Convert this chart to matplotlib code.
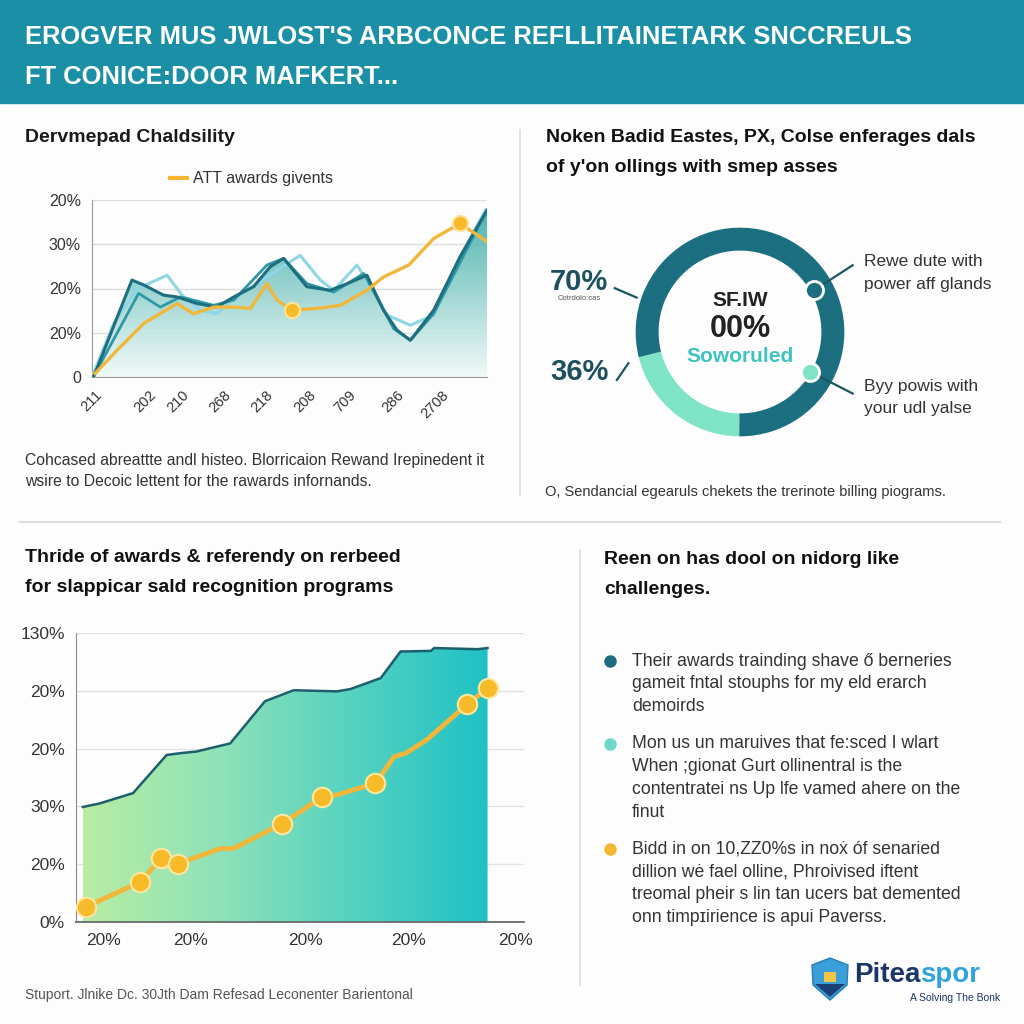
import numpy as np
import matplotlib.pyplot as plt
from matplotlib.lines import Line2D
from matplotlib.patches import Rectangle, Polygon
from matplotlib.colors import LinearSegmentedColormap

plt.rcParams['font.family'] = ['Liberation Sans', 'DejaVu Sans']

W = 1024.0

# ---- data: top-left line chart ----
tl_xlabels = ["211", "202", "210", "268", "218", "208", "709", "286", "2708"]
tl_xticks = [0, 1.34, 2.18, 3.24, 4.3, 5.39, 6.4, 7.62, 8.68]
tl_ylabels = ["0", "20%", "20%", "30%", "20%"]

dark_x = [0.04, 1.01, 1.31, 1.81, 2.15, 2.66, 3.16, 3.59, 4.09, 4.51, 4.85,
          5.44, 6.03, 6.46, 6.96, 7.38, 7.72, 8.06, 8.65, 9.32, 10.0]
dark_y = [0.0, 2.19, 2.08, 1.85, 1.81, 1.66, 1.58, 1.81, 2.04, 2.49, 2.68,
          2.04, 1.96, 2.11, 2.30, 1.51, 1.06, 0.83, 1.51, 2.72, 3.77]

mid_x = [0.08, 1.18, 1.73, 2.24, 3.08, 3.59, 4.43, 4.85, 5.44, 6.12, 6.88,
         7.64, 8.06, 8.65, 9.96]
mid_y = [0.08, 1.89, 1.58, 1.81, 1.62, 1.74, 2.53, 2.68, 2.11, 1.92, 2.34,
         1.09, 0.83, 1.43, 3.70]

light_x = [0.04, 0.55, 1.14, 1.90, 2.28, 2.74, 3.16, 3.59, 4.43, 5.27, 5.78,
           6.12, 6.71, 7.05, 7.47, 8.06, 8.65, 9.32, 9.96]
light_y = [0.08, 1.21, 1.99, 2.30, 1.85, 1.51, 1.43, 1.77, 2.26, 2.75, 2.19,
           1.96, 2.53, 2.04, 1.40, 1.17, 1.40, 2.72, 3.77]

orange_x = [0.08, 0.63, 1.31, 2.15, 2.57, 3.08, 3.59, 4.01, 4.43, 4.68, 5.06,
            5.70, 6.29, 6.96, 7.38, 8.02, 8.65, 9.32, 10.0]
orange_y = [0.08, 0.6, 1.21, 1.66, 1.43, 1.58, 1.58, 1.55, 2.11, 1.74, 1.51,
            1.55, 1.62, 1.96, 2.26, 2.53, 3.13, 3.47, 3.06]
orange_marks = [10, 17]

# ---- data: donut ----
donut_vals = [21, 79]
donut_cols = ['#7fe3c6', '#1b6f80']

# ---- data: bottom-left area chart ----
bl_ylabels = ["0%", "20%", "30%", "20%", "20%", "130%"]
bl_xlabels = ["20%", "20%", "20%", "20%", "20%"]
bl_xticks = [0.5, 2.65, 5.5, 8.04, 10.7]

area_x = [0, 0.41, 1.24, 2.07, 2.40, 2.81, 3.64, 4.50, 5.21, 6.28, 6.61,
          7.36, 7.85, 8.60, 8.68, 9.75, 10.0]
area_y = [1.99, 2.05, 2.23, 2.89, 2.92, 2.95, 3.09, 3.82, 4.01, 3.99, 4.03,
          4.22, 4.68, 4.69, 4.74, 4.72, 4.74]

rec_x = [0.08, 1.40, 1.94, 2.36, 3.39, 3.72, 4.92, 5.91, 6.28, 7.23, 7.69,
         7.98, 8.51, 9.50, 10.0]
rec_y = [0.26, 0.69, 1.10, 1.01, 1.27, 1.27, 1.70, 2.16, 2.20, 2.40, 2.86,
         2.92, 3.16, 3.77, 4.04]
rec_marks = [0, 1, 2, 3, 6, 7, 9, 13, 14]

bullets = [
    ('#1d6b80', ["Their awards trainding shave ő berneries",
                 "gameit fntal stouphs for my eld erarch",
                 "demoirds"]),
    ('#6fd8c8', ["Mon us un maruives that fe:sced I wlart",
                 "When ;gionat Gurt ollinentral is the",
                 "contentratei ns Up lfe vamed ahere on the",
                 "finut"]),
    ('#f3b732', ["Bidd in on 10,ZZ0%s in noẋ óf senaried",
                 "dillion wė fael olline, Phroivised iftent",
                 "treomal pheir s lin tan ucers bat demented",
                 "onn timpɪirience is apui Paverss."]),
]
bullet_y = [661, 744, 849]


def fx(x):
    return x / W


def fy(y):
    return 1 - y / W


def box(l, t, r, b):
    return [fx(l), fy(b), (r - l) / W, (b - t) / W]


fig = plt.figure(figsize=(10.24, 10.24), dpi=100)
fig.patch.set_facecolor('#fdfdfd')


def txt(x, y, s, **kw):
    return fig.text(fx(x), fy(y), s, **kw)


def hline(x0, x1, y0, y1, **kw):
    fig.add_artist(Line2D([fx(x0), fx(x1)], [fy(y0), fy(y1)], **kw))


# header
fig.add_artist(Rectangle((0, fy(103)), 1, 103 / W, color='#1b8fa6', zorder=0))
txt(25, 37, "EROGVER MUS JWLOST'S ARBCONCE REFLLITAINETARK SNCCREULS",
    color='white', fontsize=18.4, fontweight='bold', va='center')
txt(25, 77, "FT CONICE:DOOR MAFKERT...", color='white', fontsize=18.4,
    fontweight='bold', va='center')

# dividers
hline(520, 520, 130, 495, color='#dddddd', lw=1.2)
hline(20, 1000, 522, 522, color='#dddddd', lw=1.5)
hline(580, 580, 550, 985, color='#dddddd', lw=1.2)

# ---- top-left panel ----
txt(25, 138, "Dervmepad Chaldsility", fontsize=14, fontweight='bold',
    color='#1a1a1a', va='center')
hline(170, 187, 178, 178, color='#f2b632', lw=3)
txt(193, 178, "ATT awards givents", fontsize=11.5, color='#333333', va='center')

ax1 = fig.add_axes(box(92, 200, 487, 377))
ax1.set_xlim(0, 10)
ax1.set_ylim(0, 4)
ax1.set_facecolor('none')

grad = np.linspace(0, 1, 256)[:, None]
top_c = np.array([62, 172, 168]) / 255
bot_c = np.array([240, 250, 248]) / 255
img = bot_c + (top_c - bot_c) * grad[..., None] * np.ones((1, 2, 1))
img = np.concatenate([img, np.full((256, 2, 1), 0.92)], axis=2)
im = ax1.imshow(img, extent=[0, 10, 0, 3.8], origin='lower', aspect='auto',
                zorder=1)
poly = Polygon(list(zip(dark_x, dark_y)) + [(10, 0), (0.04, 0)],
               closed=True, transform=ax1.transData, facecolor='none',
               edgecolor='none')
ax1.add_patch(poly)
im.set_clip_path(poly)

ax1.plot(light_x, light_y, color='#8fd6e6', lw=2.2, zorder=3)
ax1.plot(mid_x, mid_y, color='#2f98a6', lw=2, zorder=3)
ax1.plot(dark_x, dark_y, color='#1d6f80', lw=2.2, zorder=4)
ax1.plot(orange_x, orange_y, color='#f0b73a', lw=2.4, zorder=5)
ax1.plot([orange_x[i] for i in orange_marks], [orange_y[i] for i in orange_marks],
         'o', ms=11, color='#f7bb2a', mec='#ffe39a', mew=1.5, zorder=6)

ax1.set_yticks(range(5))
ax1.set_yticklabels(tl_ylabels, fontsize=11.5, color='#333333')
ax1.set_xticks(tl_xticks)
ax1.set_xticklabels(tl_xlabels, rotation=45, fontsize=10.5, color='#333333',
                    ha='center')
ax1.tick_params(length=0, pad=8)
ax1.grid(axis='y', color='#dedede', lw=1)
ax1.set_axisbelow(True)
for s in ['top', 'right']:
    ax1.spines[s].set_visible(False)
ax1.spines['left'].set_color('#9a9a9a')
ax1.spines['bottom'].set_color('#9a9a9a')

txt(25, 460, "Cohcased abreattte andl histeo. Blorricaion Rewand Irepinedent it",
    fontsize=11.3, color='#333333', va='center')
txt(25, 481, "wsire to Decoic lettent for the rawards infornands.",
    fontsize=11.3, color='#333333', va='center')

# ---- top-right panel ----
txt(546, 138, "Noken Badid Eastes, PX, Colse enferages dals", fontsize=14,
    fontweight='bold', color='#111111', va='center')
txt(546, 168, "of y'on ollings with smep asses", fontsize=14,
    fontweight='bold', color='#111111', va='center')

ax2 = fig.add_axes(box(620, 212, 860, 452))
ax2.pie(donut_vals, colors=donut_cols, startangle=194, radius=1.0,
        wedgeprops=dict(width=0.22, edgecolor='none'))
ax2.set_xlim(-1.15, 1.15)
ax2.set_ylim(-1.15, 1.15)
ax2.set_aspect('equal')
ax2.axis('off')
ax2.plot([0.71, 1.08], [0.40, 0.64], color='#1d5563', lw=1.6, clip_on=False)
ax2.plot([0.67, 1.08], [-0.38, -0.59], color='#1d5563', lw=1.6, clip_on=False)
ax2.plot(0.71, 0.40, 'o', ms=13, color='#1b6f80', mec='white', mew=2, clip_on=False)
ax2.plot(0.67, -0.38, 'o', ms=13, color='#7fe3c6', mec='white', mew=2, clip_on=False)
ax2.plot([-1.20, -0.99], [0.42, 0.33], color='#1d5563', lw=1.6, clip_on=False)
ax2.plot([-1.18, -1.07], [-0.46, -0.30], color='#1d5563', lw=1.6, clip_on=False)

txt(740, 300, "SF.IW", fontsize=15, fontweight='bold', color='#222222',
    ha='center', va='center')
txt(740, 329, "00%", fontsize=22, fontweight='bold', color='#222222',
    ha='center', va='center')
txt(740, 356, "Soworuled", fontsize=15, fontweight='bold', color='#3fc3c0',
    ha='center', va='center')

txt(579, 282, "70%", fontsize=21, fontweight='bold', color='#1d4f5e',
    ha='center', va='center')
txt(579, 298, "Cotrdolo:cas", fontsize=5.5, color='#555555', ha='center',
    va='center')
txt(579, 372, "36%", fontsize=21, fontweight='bold', color='#1d4f5e',
    ha='center', va='center')

txt(864, 262, "Rewe dute with", fontsize=12.5, color='#333333', va='center')
txt(864, 284, "power aff glands", fontsize=12.5, color='#333333', va='center')
txt(864, 386, "Byy powis with", fontsize=12.5, color='#333333', va='center')
txt(864, 408, "your udl yalse", fontsize=12.5, color='#333333', va='center')

txt(545, 492, "O, Sendancial egearuls chekets the trerinote billing piograms.",
    fontsize=10.5, color='#333333', va='center')

# ---- bottom-left panel ----
txt(25, 558, "Thride of awards & referendy on rerbeed", fontsize=14,
    fontweight='bold', color='#111111', va='center')
txt(25, 588, "for slappicar sald recognition programs", fontsize=14,
    fontweight='bold', color='#111111', va='center')

ax3 = fig.add_axes(box(76, 633, 524, 922))
ax3.set_xlim(-0.17, 10.9)
ax3.set_ylim(0, 5)
ax3.set_facecolor('none')

hgrad = np.linspace(0, 1, 256)
cmap = LinearSegmentedColormap.from_list(
    'g', ['#b8eda3', '#8fe2b8', '#55d2c0', '#1fc1c6'])
im3 = ax3.imshow(hgrad[None, :], cmap=cmap, extent=[0, 10, 0, 5],
                 aspect='auto', zorder=1)
poly3 = Polygon(list(zip(area_x, area_y)) + [(10, 0), (0, 0)], closed=True,
                transform=ax3.transData, facecolor='none', edgecolor='none')
ax3.add_patch(poly3)
im3.set_clip_path(poly3)
ax3.plot(area_x, area_y, color='#1d5f6e', lw=1.8, zorder=3)
ax3.plot(rec_x, rec_y, color='#f0b73a', lw=3.5, zorder=4)
ax3.plot([rec_x[i] for i in rec_marks], [rec_y[i] for i in rec_marks], 'o',
         ms=14, color='#f7bb2a', mec='#fde7a0', mew=1.5, zorder=5)

ax3.set_yticks(range(6))
ax3.set_yticklabels(bl_ylabels, fontsize=12.5, color='#333333')
ax3.set_xticks(bl_xticks)
ax3.set_xticklabels(bl_xlabels, fontsize=12.5, color='#333333')
ax3.tick_params(length=0, pad=8)
ax3.grid(axis='y', color='#e2e2e2', lw=1)
ax3.set_axisbelow(True)
for s in ['top', 'right']:
    ax3.spines[s].set_visible(False)
ax3.spines['left'].set_color('#8a8a8a')
ax3.spines['bottom'].set_color('#6a6a6a')
ax3.spines['bottom'].set_linewidth(1.3)

# ---- bottom-right panel ----
txt(604, 560, "Reen on has dool on nidorg like", fontsize=14, fontweight='bold',
    color='#111111', va='center')
txt(604, 590, "challenges.", fontsize=14, fontweight='bold', color='#111111',
    va='center')
for (col, lines), y0 in zip(bullets, bullet_y):
    fig.add_artist(Line2D([fx(610)], [fy(y0)], marker='o', ms=8, color=col,
                          lw=0))
    for k, line in enumerate(lines):
        txt(632, y0 + k * 22.8, line, fontsize=12.7, color='#333333',
            va='center')

# ---- footer ----
txt(25, 995, "Stuport. Jlnike Dc. 30Jth Dam Refesad Leconenter Barientonal",
    fontsize=10, color='#555555', va='center')

shield = [(812, 965), (830, 958), (848, 965), (847, 985), (830, 1000),
          (813, 985)]
fig.add_artist(Polygon([(fx(a), fy(b)) for a, b in shield], closed=True,
                       facecolor='#3a9fd8', edgecolor='#2680b8', lw=1))
fig.add_artist(Polygon([(fx(a), fy(b)) for a, b in
                        [(815, 984), (845, 984), (830, 997)]], closed=True,
                       facecolor='#1a3f75', edgecolor='none'))
fig.add_artist(Rectangle((fx(824), fy(982)), 12 / W, 10 / W,
                         facecolor='#f4c543', edgecolor='none'))
t1 = txt(854, 975, "Pitea", fontsize=20, fontweight='bold', color='#1a3566',
         va='center')
ax2.annotate("spor", xy=(1, 0.5), xycoords=t1, va='center', ha='left',
             fontsize=20, fontweight='bold', color='#2ea4da',
             annotation_clip=False)
txt(1000, 998, "A Solving The Bonk", fontsize=7.5, color='#1a3566',
    ha='right', va='center')

fig.savefig('out.png', dpi=100, facecolor=fig.get_facecolor())
